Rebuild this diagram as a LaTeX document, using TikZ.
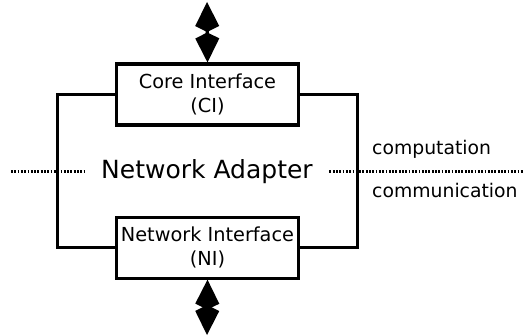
\documentclass[tikz,border=0pt]{standalone}
\usepackage{fontspec}
\setmainfont{DejaVu Sans}
\usetikzlibrary{arrows.meta,positioning}

\begin{document}
\begin{tikzpicture}[
    x=1pt, y=-1pt,
    iface box/.style={draw, line width=3.1pt, fill=white, align=center, inner sep=2pt,
                      minimum width=182pt, minimum height=61pt, font=\fontsize{19.3}{24.5}\selectfont},
    frame line/.style={line width=3pt},
    dot line/.style={line width=2.3pt, dash pattern=on 1.8pt off 1.5pt},
    side label/.style={anchor=base west, inner sep=0pt, font=\fontsize{18.8}{22}\selectfont},
    bidir/.style={line width=3.2pt, {Kite[length=30pt, width=24pt, inset=6pt]}-{Kite[length=30pt, width=24pt, inset=6pt]}}
]
\useasboundingbox (0,0) rectangle (524,336);

% interfaces
\node[iface box] (ci) at (207.5,94.5) {Core Interface\\(CI)};
\node[iface box, below=89pt of ci] (ni) {Network Interface\\(NI)};

% frame of the adapter
\coordinate (lft) at (57.5,0);
\coordinate (rgt) at (357,0);
\draw[frame line] (ci.west) -- (ci.west -| lft) |- (ni.west);
\draw[frame line] (ci.east) -- (ci.east -| rgt) |- (ni.east);

% adapter label on the boundary
\node[font=\fontsize{25}{28}\selectfont, inner xsep=16.5pt, inner ysep=0pt] (adapter) at (207,171.5) {Network Adapter};
\coordinate (dotl) at (11,171.5);
\coordinate (dotr) at (524,171.5);
\draw[dot line] (dotl) -- (adapter.west);
\draw[dot line] (adapter.east) -- (dotr);

\node[side label] (comp) at (372,155) {computation};
\node[side label] (comm) at (372,198) {communication};

% in/out arrows
\coordinate (topend) at (207,2);
\coordinate (botend) at (207,335);
\draw[bidir] (topend) -- (ci.north);
\draw[bidir] (ni.south) -- (botend);

\end{tikzpicture}
\end{document}
